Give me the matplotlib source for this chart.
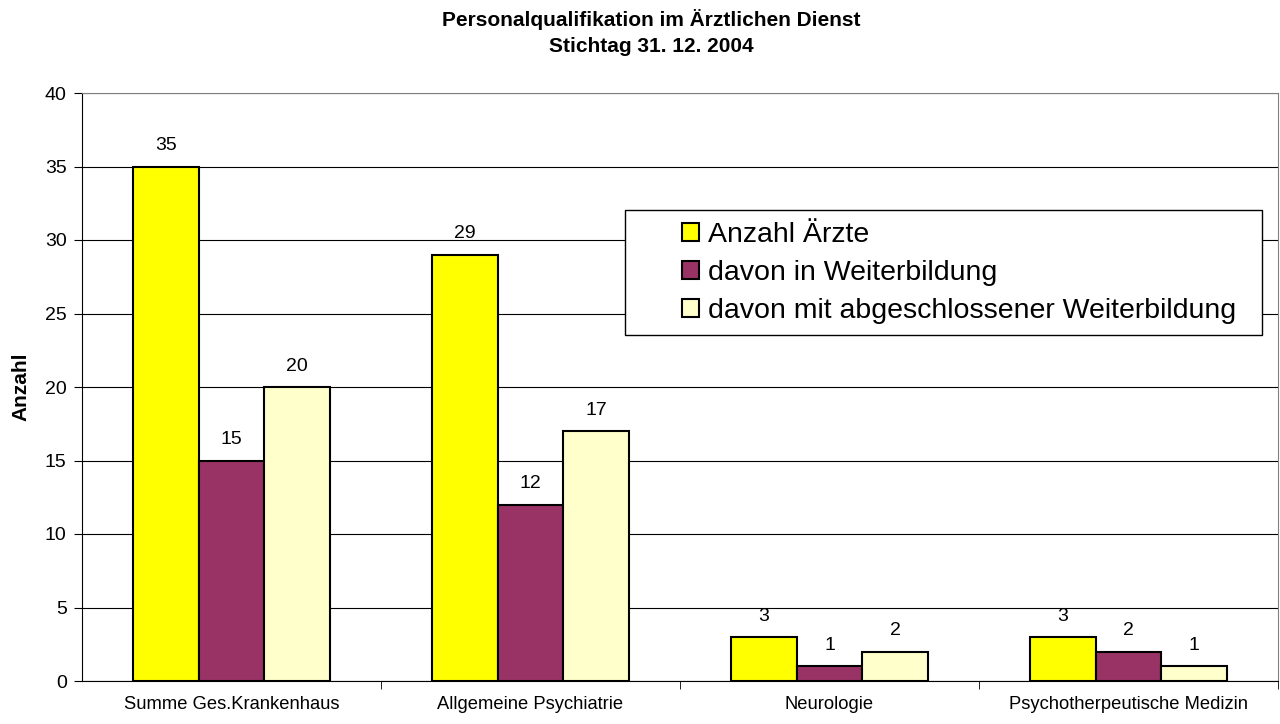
import matplotlib.pyplot as plt
import numpy as np
from matplotlib.patches import Rectangle

plt.rcParams['font.family'] = ['Liberation Sans', 'DejaVu Sans']

# Daten
categories = ['Summe Ges.Krankenhaus', 'Allgemeine Psychiatrie',
              'Neurologie', 'Psychotherpeutische Medizin']
series_names = ['Anzahl Ärzte', 'davon in Weiterbildung',
                'davon mit abgeschlossener Weiterbildung']
anzahl = [35, 29, 3, 3]
in_weiterbildung = [15, 12, 1, 2]
abgeschlossen = [20, 17, 2, 1]
colors = ['#FFFF00', '#993366', '#FFFFCC']

W, H = 1280, 724


def px(x, y):
    # Pixelkoordinaten (von oben) -> Figure-Koordinaten
    return x / W, 1 - y / H


def main():
    fig = plt.figure(figsize=(12.8, 7.24), dpi=100)
    ax = fig.add_axes([82/W, 1 - 681/H, (1278-82)/W, (681-93)/H])

    x = np.arange(len(categories))
    width = 0.22
    values = [anzahl, in_weiterbildung, abgeschlossen]
    handles = []
    for j, (vals, name) in enumerate(zip(values, series_names)):
        bars = ax.bar(x + (j - 1) * width, vals, width, color=colors[j],
                      edgecolor='black', linewidth=1.5, label=name, zorder=3)
        handles.append(bars)
        for b, v in zip(bars, vals):
            ax.annotate(str(v), (b.get_x() + b.get_width()/2, v),
                        xytext=(0, 15), textcoords='offset points',
                        ha='center', va='center', fontsize=14)

    ax.set_xlim(-0.5, 3.5)
    ax.set_ylim(0, 40)
    ax.set_yticks(range(0, 41, 5))
    ax.yaxis.grid(True, color='black', linewidth=0.8, zorder=0)
    ax.set_axisbelow(True)

    ax.set_xticks(x)
    ax.set_xticklabels(categories, fontsize=13.2)
    ax.set_xticks([0.5, 1.5, 2.5, 3.5], minor=True)
    ax.tick_params(axis='x', which='major', length=0, pad=11)
    ax.tick_params(axis='x', which='minor', length=6, direction='out')
    ax.tick_params(axis='y', labelsize=14, length=6, direction='out', pad=5)

    for side in ['top', 'right']:
        ax.spines[side].set_color('#808080')

    ax.set_ylabel('Anzahl', fontsize=15, fontweight='bold', labelpad=10)

    fig.text(*px(651, 20), 'Personalqualifikation im Ärztlichen Dienst',
             ha='center', va='center', fontsize=15, fontweight='bold')
    fig.text(*px(651, 47), 'Stichtag 31. 12. 2004',
             ha='center', va='center', fontsize=15, fontweight='bold')

    # Legendenrahmen
    x0, y0 = px(625, 335)
    x1, y1 = px(1262, 210)
    frame = Rectangle((x0, y0), x1 - x0, y1 - y0, transform=fig.transFigure,
                      facecolor='white', edgecolor='black', linewidth=1.0,
                      zorder=4, clip_on=False)
    ax.add_patch(frame)

    leg = ax.legend(handles=handles, loc='center left',
                    bbox_to_anchor=px(682, 273), bbox_transform=fig.transFigure,
                    fontsize=20.5, frameon=False, handlelength=0.6,
                    handleheight=0.6, handletextpad=0.3, borderpad=0,
                    labelspacing=0.42, borderaxespad=0)
    leg.set_zorder(5)

    fig.savefig('out.png', dpi=100)


if __name__ == '__main__':
    main()
